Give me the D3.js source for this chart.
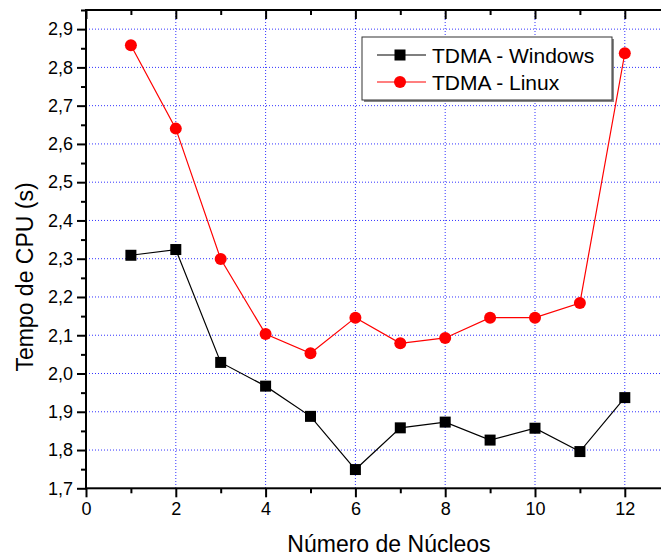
<!DOCTYPE html>
<html><head><meta charset="utf-8">
<script src="https://cdn.jsdelivr.net/npm/d3@7"></script>
<style>body{margin:0;background:#fff}svg{display:block}text{font-family:"Liberation Sans",Arial,sans-serif}</style>
</head><body><svg id="c" width="661" height="556"></svg>
<script>
const nucleos = [1,2,3,4,5,6,7,8,9,10,11,12];
const windows = [2.309,2.324,2.029,1.967,1.888,1.749,1.858,1.873,1.826,1.857,1.796,1.937];
const linux = [2.858,2.640,2.299,2.103,2.053,2.146,2.079,2.093,2.146,2.146,2.184,2.837];
const seriesNames = ["TDMA - Windows","TDMA - Linux"];
const xTicks = [0,2,4,6,8,10,12];
const yTicks = [1.7,1.8,1.9,2.0,2.1,2.2,2.3,2.4,2.5,2.6,2.7,2.8,2.9];

const svg = d3.select("#c");
const L=86, T=10, B=488.3;
const x = d3.scaleLinear().domain([0,13]).range([L, L+13*44.9]);
const y = d3.scaleLinear().domain([1.7,2.95]).range([B, T]);
const R = x(13);
const fmt = d => d3.format(".1f")(d).replace(".", ",");

// grid
const g = svg.append("g");
g.selectAll(".gx").data(xTicks.filter(d=>d>0)).join("line")
  .attr("x1",d=>x(d)).attr("x2",d=>x(d)).attr("y1",T).attr("y2",B)
  .attr("stroke","#3333ff").attr("stroke-width",1).attr("stroke-dasharray","1,2");
g.selectAll(".gy").data(yTicks.filter(d=>d>1.7)).join("line")
  .attr("x1",L).attr("x2",R).attr("y1",d=>y(d)).attr("y2",d=>y(d))
  .attr("stroke","#3333ff").attr("stroke-width",1).attr("stroke-dasharray","1,2");

// axes
const xAxis = d3.axisBottom(x).tickValues(xTicks).tickFormat(d3.format("d")).tickSize(9).tickPadding(5);
const xMinor = d3.axisBottom(x).tickValues(d3.range(1,13,2)).tickFormat("").tickSize(5);
const yAxis = d3.axisLeft(y).tickValues(yTicks).tickFormat(fmt).tickSize(9).tickPadding(4);
const yMinor = d3.axisLeft(y).tickValues(d3.range(1.75,2.95,0.1)).tickFormat("").tickSize(5);
const xTop = d3.axisBottom(x).tickValues(xTicks).tickFormat("").tickSize(9);
const xTopMinor = d3.axisBottom(x).tickValues(d3.range(1,13,2)).tickFormat("").tickSize(5);

function style(sel){
  sel.select(".domain").remove();
  sel.selectAll("line").attr("stroke","#000").attr("stroke-width",2);
  sel.selectAll("text").attr("fill","#000").attr("font-size","18px");
}
svg.append("g").attr("transform",`translate(0,${B})`).call(xAxis).call(style);
svg.append("g").attr("transform",`translate(0,${B})`).call(xMinor).call(style);
svg.append("g").attr("transform",`translate(${L},0)`).call(yAxis).call(style);
svg.append("g").attr("transform",`translate(${L},0)`).call(yMinor).call(style);
svg.append("g").attr("transform",`translate(0,${T})`).call(xTop).call(style);
svg.append("g").attr("transform",`translate(0,${T})`).call(xTopMinor).call(style);
svg.append("rect").attr("x",L).attr("y",T).attr("width",R-L).attr("height",B-T)
  .attr("fill","none").attr("stroke","#000").attr("stroke-width",2);

// lines
const line = d3.line().x(d=>x(d[0])).y(d=>y(d[1]));
const wd = nucleos.map((n,i)=>[n,windows[i]]);
const ld = nucleos.map((n,i)=>[n,linux[i]]);
svg.append("path").datum(wd).attr("d",line).attr("fill","none").attr("stroke","#000").attr("stroke-width",1.2);
svg.append("path").datum(ld).attr("d",line).attr("fill","none").attr("stroke","#ff0000").attr("stroke-width",1.2);
svg.selectAll(".sq").data(wd).join("rect").attr("x",d=>x(d[0])-5.5).attr("y",d=>y(d[1])-5.5)
  .attr("width",11).attr("height",11).attr("fill","#000");
svg.selectAll(".ci").data(ld).join("circle").attr("cx",d=>x(d[0])).attr("cy",d=>y(d[1]))
  .attr("r",6).attr("fill","#ff0000");

// legend
const lg = svg.append("g");
lg.append("rect").attr("x",364).attr("y",39).attr("width",250).attr("height",63).attr("fill","#888");
lg.append("rect").attr("x",362).attr("y",37).attr("width",250).attr("height",63).attr("fill","#fff").attr("stroke","#333").attr("stroke-width",1);
const rows = [{n:seriesNames[0],c:"#000",m:"sq",yy:55},{n:seriesNames[1],c:"#ff0000",m:"ci",yy:82}];
rows.forEach(r=>{
  lg.append("line").attr("x1",377).attr("x2",426).attr("y1",r.yy).attr("y2",r.yy).attr("stroke",r.c).attr("stroke-width",1.2);
  if(r.m==="sq") lg.append("rect").attr("x",400-5.5).attr("y",r.yy-5.5).attr("width",11).attr("height",11).attr("fill",r.c);
  else lg.append("circle").attr("cx",400).attr("cy",r.yy).attr("r",6).attr("fill",r.c);
  lg.append("text").attr("x",432).attr("y",r.yy+7.5).attr("font-size","21px").attr("fill","#000").text(r.n);
});

// titles
svg.append("text").attr("x",389).attr("y",552).attr("text-anchor","middle").attr("font-size","23px").text("Número de Núcleos");
svg.append("text").attr("transform","translate(33,277) rotate(-90)").attr("text-anchor","middle").attr("font-size","23px").text("Tempo de CPU (s)");
</script></body></html>
